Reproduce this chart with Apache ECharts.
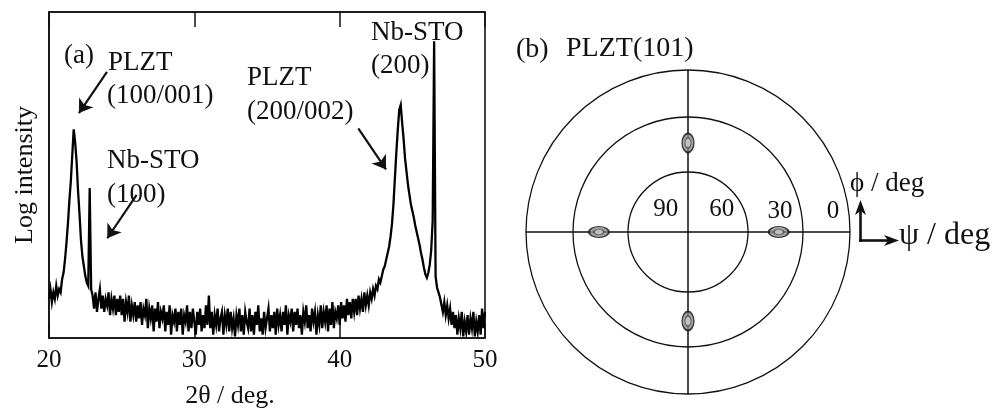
<!DOCTYPE html>
<html>
<head>
<meta charset="utf-8">
<script src="https://cdn.jsdelivr.net/npm/echarts@6/dist/echarts.min.js"></script>
<style>
html,body{margin:0;padding:0;background:#fff;}
#chart{width:1003px;height:408px;}
</style>
</head>
<body>
<div id="chart"></div>
<script>
// ---- Data ----
const twoThetaStart = 20;     // deg
const twoThetaStep = 0.1;     // deg
// Log intensity (arbitrary units, 0 = frame bottom, 100 = frame top), 20.0 .. 50.0 deg
const logIntensity = [
  12, 15, 11, 14, 12, 16, 13, 15, 14, 18,          // 20.x
  20, 24, 29, 35, 42, 48, 56, 64, 60, 54,          // 21.x
  45, 38, 30, 25, 22, 19, 17, 16, 46, 15,          // 22.x
  13, 9, 14, 8, 12, 15, 9, 13, 8, 12,              // 23.x
  10, 14, 7, 12, 9, 13, 7, 12, 8, 13,              // 24.x
  7, 12, 5, 11, 8, 13, 5, 10, 7, 11,               // 25.x
  5, 10, 6, 11, 4, 9, 7, 12, 3, 9,                 // 26.x
  6, 10, 2, 9, 5, 11, 3, 8, 6, 10,                 // 27.x
  2, 8, 4, 10, 1, 7, 5, 9, 2, 8,                   // 28.x
  4, 9, 1, 7, 5, 10, 2, 8, 3, 9,                   // 29.x
  5, 1, 8, 4, 9, 2, 7, 3, 10, 4,                   // 30.x
  13, 3, 8, 1, 7, 4, 9, 2, 6, 8,                   // 31.x
  1, 7, 4, 9, 2, 8, 3, 6, 0.5, 7,                  // 32.x
  4, 9, 2, 7, 1, 8, 5, 3, 9, 2,                    // 33.x
  7, 1, 8, 4, 10, 2, 6, 1, 8, 3,                   // 34.x
  6, 9, 2, 7, 3, 8, 1, 9, 4, 7,                    // 35.x
  2, 8, 4, 10, 1, 7, 5, 9, 2, 8,                   // 36.x
  4, 9, 3, 7, 1, 8, 5, 10, 3, 7,                   // 37.x
  2, 9, 5, 8, 1, 7, 4, 10, 3, 8,                   // 38.x
  5, 10, 2, 9, 4, 11, 3, 8, 6, 10,                 // 39.x
  4, 11, 6, 10, 5, 12, 7, 11, 6, 12,               // 40.x
  8, 12, 7, 13, 9, 12, 8, 14, 10, 13,              // 41.x
  10, 14, 12, 15, 13, 16, 15, 18, 17, 19,          // 42.x
  21, 22, 24, 26, 28, 31, 35, 41, 49, 57,          // 43.x
  64, 70, 71.5, 66, 61, 55, 51, 47, 44, 41,        // 44.x
  39, 37, 34.5, 32.5, 30.5, 28.5, 26, 24, 21.5, 19.5, // 45.x
  18.5, 20, 22.5, 27, 36, 91, 19, 15.5, 14, 12.5,  // 46.x
  12, 8, 11, 7, 10, 6, 9, 4, 8, 3,                 // 47.x
  7, 1, 6, 3, 8, 0.5, 5, 2, 7, 1,                  // 48.x
  6, 3, 8, 0.5, 5, 2, 7, 1, 9, 3,                  // 49.x
  8                                                // 50.0
];
const xMin = 20, xMax = 50, xInterval = 10;

// Peak annotation arrows: [from 2theta, from I, to 2theta, to I]
const peakArrows = [
  [23.99, 81.6, 22.06, 69.0],   // PLZT (100/001)
  [26.03, 43.9, 24.01, 30.6],   // Nb-STO (100)
  [41.28, 64.3, 43.19, 51.7]    // PLZT (200/002)
];

// Pole figure: PLZT(101) spots (phi in deg, normalized radial position)
const spotPhi = [0, 90, 180, 270];
const spotR = [0.56, 0.55, 0.55, 0.55];
const ringPsiLabels = ['90', '60', '30', '0'];

// ---- Build ----
const xrdData = logIntensity.map((v, i) => [+(twoThetaStart + i * twoThetaStep).toFixed(2), v]);
const spotData = spotPhi.map((p, i) => [spotR[i], p]);

const SERIF = '"Liberation Serif", "Times New Roman", serif';
const C = [688, 232];

function txt(text, x, y, size, align) {
  return { type: 'text', silent: true, z: 100,
    style: { text: text, x: x, y: y, fill: '#111', font: size + 'px ' + SERIF,
             fontSize: size, fontFamily: SERIF, align: align || 'left', verticalAlign: 'middle' } };
}

const chart = echarts.init(document.getElementById('chart'), null, { renderer: 'canvas' });
const hiddenAngle = {
  type: 'value', min: 0, max: 360, interval: 90, startAngle: 0, clockwise: false,
  axisLine: { show: true, lineStyle: { color: '#111', width: 1.3 } },
  axisTick: { show: false }, axisLabel: { show: false }, splitLine: { show: false }
};
const option = {
  animation: false,
  backgroundColor: '#fff',
  grid: { left: 49, right: 518, top: 12, bottom: 70, show: true, borderColor: '#111', borderWidth: 1.6,
          backgroundColor: 'transparent', containLabel: false, outerBoundsMode: 'none' },
  xAxis: [
    { type: 'value', min: xMin, max: xMax, interval: xInterval, position: 'bottom',
      axisLine: { show: true, lineStyle: { color: '#111', width: 1.6 } },
      axisTick: { show: true, inside: true, length: 15, lineStyle: { color: '#111', width: 1.5 } },
      axisLabel: { show: true, color: '#111', fontSize: 25, fontFamily: SERIF, margin: 10 },
      splitLine: { show: false },
      name: '2θ / deg.', nameLocation: 'middle', nameGap: 45,
      nameTextStyle: { color: '#111', fontSize: 26, fontFamily: SERIF, padding: [0, 74, 0, 0] } },
    { type: 'value', min: xMin, max: xMax, interval: xInterval, position: 'top',
      axisLine: { show: true, lineStyle: { color: '#111', width: 1.6 } },
      axisTick: { show: true, inside: true, length: 15, lineStyle: { color: '#111', width: 1.5 } },
      axisLabel: { show: false }, splitLine: { show: false } }
  ],
  yAxis: {
    type: 'value', min: 0, max: 100,
    axisLine: { show: true, lineStyle: { color: '#111', width: 1.6 } },
    axisTick: { show: false }, axisLabel: { show: false }, splitLine: { show: false },
    name: 'Log intensity', nameLocation: 'middle', nameGap: 11,
    nameTextStyle: { color: '#111', fontSize: 26, fontFamily: SERIF }
  },
  polar: [
    { center: C, radius: 162 },
    { center: C, radius: 115 },
    { center: C, radius: 60 }
  ],
  angleAxis: [
    Object.assign({}, hiddenAngle, { polarIndex: 0,
      splitLine: { show: true, lineStyle: { color: '#111', width: 1.5 } } }),
    Object.assign({}, hiddenAngle, { polarIndex: 1 }),
    Object.assign({}, hiddenAngle, { polarIndex: 2 })
  ],
  radiusAxis: [
    { polarIndex: 0, type: 'value', min: 0, max: 1, show: false },
    { polarIndex: 1, type: 'value', min: 0, max: 1, show: false },
    { polarIndex: 2, type: 'value', min: 0, max: 1, show: false }
  ],
  series: [
    { type: 'line', xAxisIndex: 0, yAxisIndex: 0, data: xrdData, showSymbol: false, symbol: 'none',
      lineStyle: { color: '#000', width: 2.3, join: 'miter' }, clip: true, silent: true,
      markLine: {
        silent: true, symbol: ['none', 'arrow'], symbolSize: 13, animation: false,
        label: { show: false },
        lineStyle: { color: '#111', width: 2.2, type: 'solid' },
        data: peakArrows.map(a => [{ coord: [a[0], a[1]] }, { coord: [a[2], a[3]] }])
      } },
    { type: 'scatter', coordinateSystem: 'polar', polarIndex: 0, data: spotData, silent: true,
      symbol: 'circle',
      symbolSize: (v) => (v[1] % 180 === 0 ? [20, 11] : [12, 19]),
      itemStyle: { color: '#8a8a8a', borderColor: '#111', borderWidth: 1.6 }, z: 5 },
    { type: 'scatter', coordinateSystem: 'polar', polarIndex: 0, data: spotData, silent: true,
      symbol: 'circle',
      symbolSize: (v) => (v[1] % 180 === 0 ? [10, 5] : [6, 10]),
      itemStyle: { color: '#d0d0d0', borderColor: '#333', borderWidth: 1 }, z: 6 }
  ],
  graphic: [
    txt('(a)', 64, 56, 27),
    txt('PLZT', 108, 63, 27),
    txt('(100/001)', 107, 96, 27),
    txt('Nb-STO', 107, 161, 27),
    txt('(100)', 107, 195, 27),
    txt('PLZT', 247, 78, 27),
    txt('(200/002)', 247, 112, 27),
    txt('Nb-STO', 371, 33, 27),
    txt('(200)', 371, 66, 27),
    txt('(b)', 516, 50, 28),
    txt('PLZT(101)', 566, 49, 28),
    txt(ringPsiLabels[0], 665.7, 209.5, 25, 'center'),
    txt(ringPsiLabels[1], 721.7, 209.5, 25, 'center'),
    txt(ringPsiLabels[2], 780, 211.5, 25, 'center'),
    txt(ringPsiLabels[3], 833, 211.5, 25, 'center'),
    txt('ϕ / deg', 850, 184, 27),
    txt('ψ / deg', 899, 236, 32),
    { type: 'line', silent: true, z: 100, shape: { x1: 860.5, y1: 242, x2: 860.5, y2: 210 },
      style: { stroke: '#111', lineWidth: 2.6 } },
    { type: 'polygon', silent: true, z: 100,
      shape: { points: [[860.5, 200], [866, 215], [860.5, 211], [855, 215]] },
      style: { fill: '#111' } },
    { type: 'line', silent: true, z: 100, shape: { x1: 859.2, y1: 240.5, x2: 889, y2: 240.5 },
      style: { stroke: '#111', lineWidth: 2.6 } },
    { type: 'polygon', silent: true, z: 100,
      shape: { points: [[899, 240.5], [884, 235], [888, 240.5], [884, 246]] },
      style: { fill: '#111' } }
  ]
};
chart.setOption(option);
</script>
</body>
</html>
